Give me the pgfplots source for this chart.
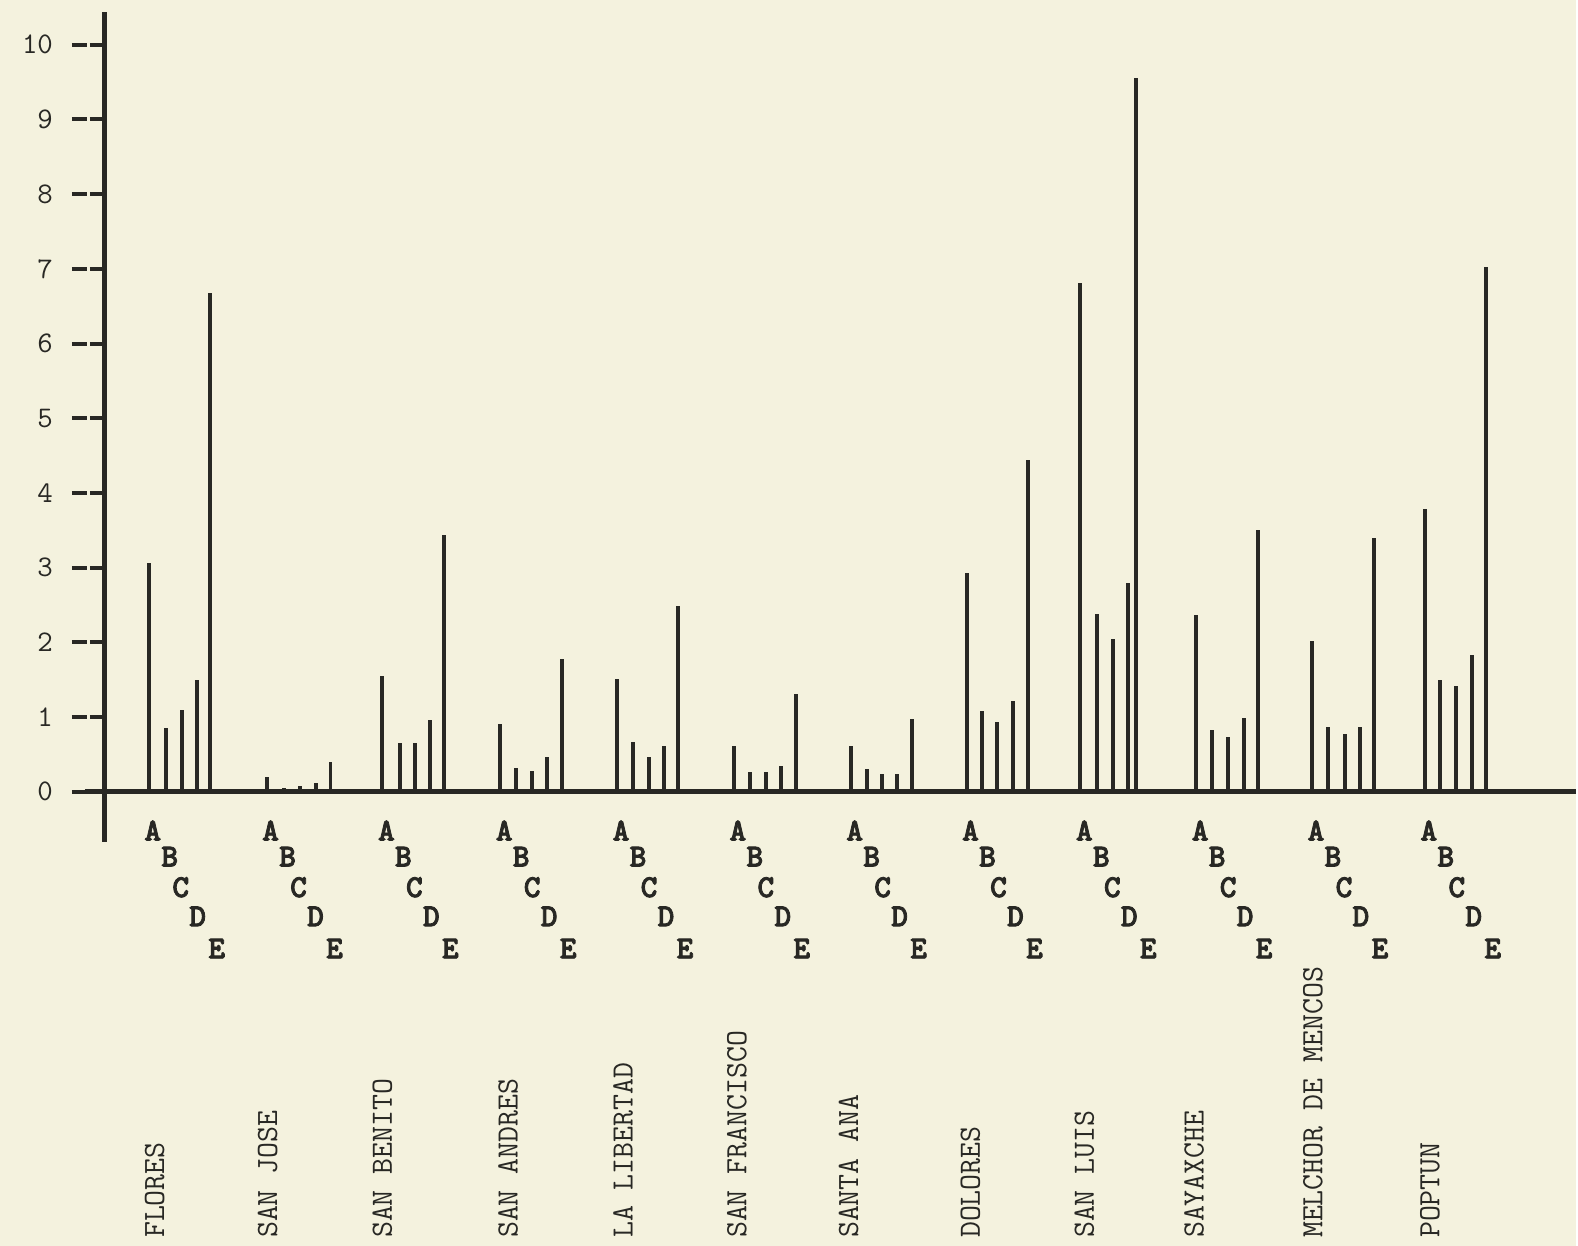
\documentclass[border=0pt]{standalone}
\usepackage{pgfplots}
\pgfplotsset{compat=1.18}
\usepackage{fontspec}
\newfontfamily\boldtt{lmmonolt10-bold.otf}[FakeBold=2.5]
\definecolor{paper}{RGB}{244,242,222}
\definecolor{ink}{RGB}{40,40,36}
% x = pixel column minus 105 (y axis position); y = value
\pgfplotstableread{
x y
44 3.06
61 0.85
77 1.10
92 1.49
105 6.68
162 0.20
179 0.05
195 0.07
211 0.11
226 0.40
278 1.55
296 0.65
311 0.65
326 0.96
340 3.43
396 0.90
412 0.32
428 0.28
443 0.47
458 1.78
513 1.51
529 0.66
545 0.47
560 0.61
574 2.49
630 0.61
646 0.27
662 0.26
677 0.34
692 1.31
747 0.61
763 0.30
778 0.23
793 0.24
808 0.97
863 2.93
878 1.08
894 0.93
910 1.22
925 4.44
977 6.81
994 2.38
1010 2.05
1025 2.80
1033 9.56
1093 2.36
1109 0.83
1125 0.73
1141 0.98
1155 3.50
1209 2.02
1225 0.87
1242 0.77
1257 0.87
1271 3.39
1322 3.78
1337 1.49
1353 1.41
1369 1.83
1383 7.03
}\bars
\newcommand{\lf}{\boldtt\fontsize{16}{16}\selectfont}
\newcommand{\letters}[1]{%
  \node[font=\lf, text=ink] at (axis cs:#1+4,-0.52) {A};
  \node[font=\lf, text=ink] at (axis cs:#1+21,-0.87) {B};
  \node[font=\lf, text=ink] at (axis cs:#1+32,-1.28) {C};
  \node[font=\lf, text=ink] at (axis cs:#1+49,-1.67) {D};
  \node[font=\lf, text=ink] at (axis cs:#1+68,-2.10) {E};
}
\newcommand{\town}[2]{%
  \node[rotate=90, anchor=west, inner sep=0pt, font=\fontsize{15.5}{15.5}\selectfont\ttfamily, text=ink] at (axis cs:#1,-5.98) {#2};
}
\begin{document}
\begin{tikzpicture}
\begin{axis}[
  set layers,
  x=0.5pt, y=37.4pt,
  xmin=0, xmax=1473, ymin=0, ymax=10.44,
  axis lines=left,
  axis line style={-, line width=2.4pt, color=ink},
  x axis line style={shorten <=-10pt},
  y axis line style={shorten <=-25pt},
  xtick=\empty,
  ytick={0,1,2,3,4,5,6,7,8,9,10},
  tick align=outside,
  major tick length=16.5pt,
  ytick style={line width=2pt, color=ink, dash pattern=on 7.5pt off 1.5pt},
  yticklabel style={font=\fontsize{15}{15}\selectfont\ttfamily, text=ink, xshift=-6pt},
  /pgf/number format/assume math mode=true,
  clip=false,
]
\begin{pgfonlayer}{axis background}
\fill[paper] (axis cs:-105,-6.08) rectangle (axis cs:1473,10.60);
\end{pgfonlayer}
\addplot[ycomb, no marks, color=ink, line width=2pt] table[x=x, y=y] {\bars};
\letters{44}
\letters{162}
\letters{278}
\letters{396}
\letters{513}
\letters{630}
\letters{747}
\letters{863}
\letters{977}
\letters{1093}
\letters{1209}
\letters{1322}
\town{50}{FLORES}
\town{163}{SAN JOSE}
\town{278}{SAN BENITO}
\town{404}{SAN ANDRES}
\town{519}{LA LIBERTAD}
\town{633}{SAN FRANCISCO}
\town{745}{SANTA ANA}
\town{867}{DOLORES}
\town{981}{SAN LUIS}
\town{1091}{SAYAXCHE}
\town{1210}{MELCHOR DE MENCOS}
\town{1327}{POPTUN}
\end{axis}
\end{tikzpicture}
\end{document}
